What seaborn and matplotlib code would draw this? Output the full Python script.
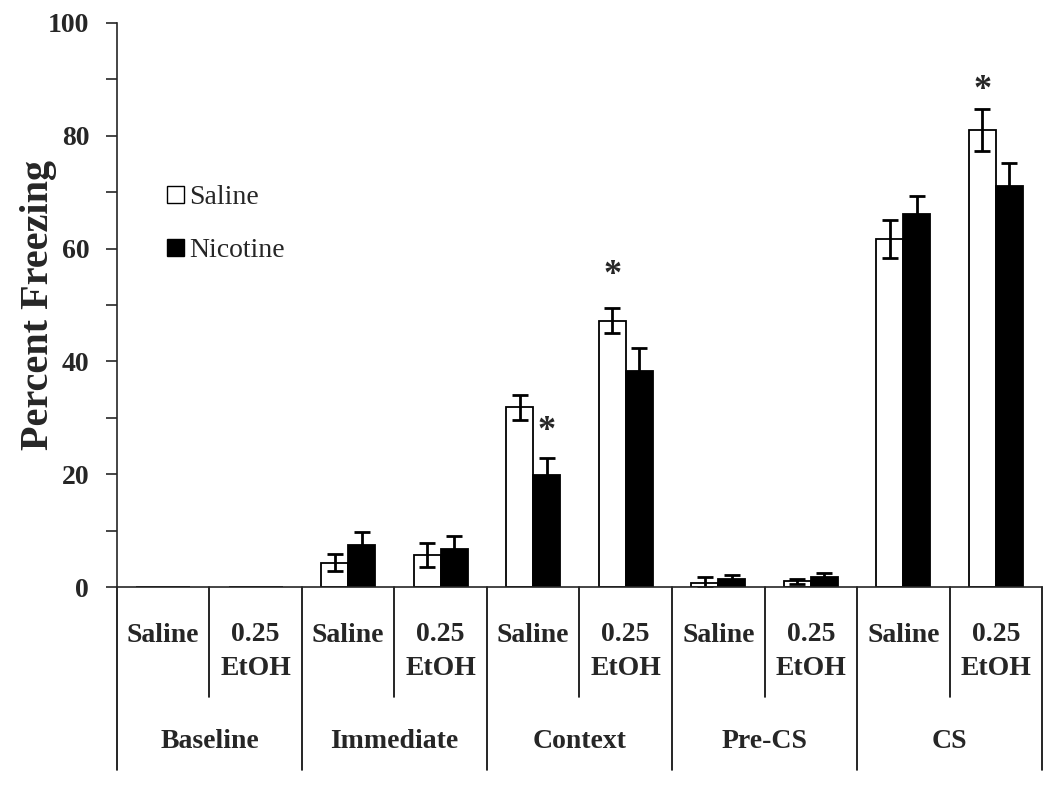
import matplotlib
matplotlib.use("Agg")
import matplotlib.pyplot as plt
from matplotlib.patches import Patch
from matplotlib.ticker import MultipleLocator
import seaborn as sns
import pandas as pd

sns.set_style("ticks")
plt.rcParams["font.family"] = ["Liberation Serif", "DejaVu Serif"]

# ---- data ----
phases = ["Baseline", "Immediate", "Context", "Pre-CS", "CS"]
treatments = ["Saline", "0.25\nEtOH"]
drugs = ["Saline", "Nicotine"]

saline_mean = [0, 0, 4.3, 5.7, 31.9, 47.2, 0.8, 1.0, 61.7, 81.0]
saline_sem = [0, 0, 1.5, 2.1, 2.2, 2.2, 0.9, 0.4, 3.3, 3.7]
nicotine_mean = [0, 0, 7.4, 6.7, 19.9, 38.3, 1.4, 1.8, 66.1, 71.1]
nicotine_sem = [0, 0, 2.3, 2.4, 3.0, 4.1, 0.7, 0.6, 3.3, 4.1]

# significance marks: (subgroup index, drug, y of the star)
stars = [(4, "Nicotine", 27.5), (5, "Saline", 55.3), (9, "Saline", 88.1)]

keys = [f"{p}|{t}" for p in phases for t in treatments]
df = pd.DataFrame({
    "key": keys * 2,
    "drug": ["Saline"] * len(keys) + ["Nicotine"] * len(keys),
    "pct": saline_mean + nicotine_mean,
})

fig, ax = plt.subplots(figsize=(10.5, 7.87), dpi=100)
plt.subplots_adjust(left=0.1114, right=0.9924, bottom=0.2541, top=0.9708)

sns.barplot(data=df, x="key", y="pct", hue="drug", order=keys, hue_order=drugs,
            palette={"Saline": "white", "Nicotine": "black"}, edgecolor="black",
            linewidth=1.3, width=0.58, gap=0, legend=False, errorbar=None, ax=ax)

# error bars on top of each bar
bar_x = {}
for cont, drug, means, sems in zip(ax.containers, drugs,
                                   [saline_mean, nicotine_mean],
                                   [saline_sem, nicotine_sem]):
    xs = [p.get_x() + p.get_width() / 2 for p in cont]
    bar_x[drug] = xs
    pts = [(x, m, s) for x, m, s in zip(xs, means, sems) if m > 0]
    ax.errorbar([p[0] for p in pts], [p[1] for p in pts], yerr=[p[2] for p in pts],
                fmt="none", ecolor="black", elinewidth=2, capsize=6, capthick=2)

for idx, drug, y in stars:
    ax.text(bar_x[drug][idx], y, "*", ha="center", va="center",
            fontsize=26, fontweight="bold")

ax.set_xlim(-0.5, len(keys) - 0.5)
ax.set_ylim(0, 100)
ax.yaxis.set_major_locator(MultipleLocator(20))
ax.yaxis.set_minor_locator(MultipleLocator(10))
ax.tick_params(axis="y", which="both", direction="out", length=8, width=1.2,
               labelsize=20, pad=12)
for lab in ax.get_yticklabels():
    lab.set_fontweight("bold")
ax.tick_params(axis="x", length=0, labelbottom=False)
ax.set_xlabel("")
ax.set_ylabel("Percent Freezing", fontsize=29, fontweight="bold")
ax.yaxis.set_label_coords(-0.065, 0.5)
sns.despine(ax=ax)
for s in ["left", "bottom"]:
    ax.spines[s].set_linewidth(1.2)

# category table under the axis
tr = ax.get_xaxis_transform()
for i in range(len(phases)):
    ax.plot([2 * i + 0.5] * 2, [0, -0.195], transform=tr, color="black",
            lw=1.2, clip_on=False)
for i in range(len(phases) + 1):
    ax.plot([2 * i - 0.5] * 2, [0, -0.324], transform=tr, color="black",
            lw=1.2, clip_on=False)
for j, k in enumerate(keys):
    lab = k.split("|")[1]
    nlines = lab.count("\n")
    ax.text(j, -0.0975 - 0.0585 * nlines, lab, transform=tr, ha="center",
            va="baseline", fontsize=20, fontweight="bold", linespacing=1.45)
for i, p in enumerate(phases):
    ax.text(2 * i + 0.5, -0.2855, p, transform=tr, ha="center", va="baseline",
            fontsize=20, fontweight="bold")

handles = [Patch(facecolor=c, edgecolor="black", linewidth=1) for c in ["white", "black"]]
ax.legend(handles, drugs, loc="center left", bbox_to_anchor=(0.054, 0.643),
          frameon=False, fontsize=20, handlelength=0.6, handleheight=0.6,
          handletextpad=0.2, labelspacing=1.0, borderpad=0, borderaxespad=0)

plt.savefig("out.png", dpi=100)
